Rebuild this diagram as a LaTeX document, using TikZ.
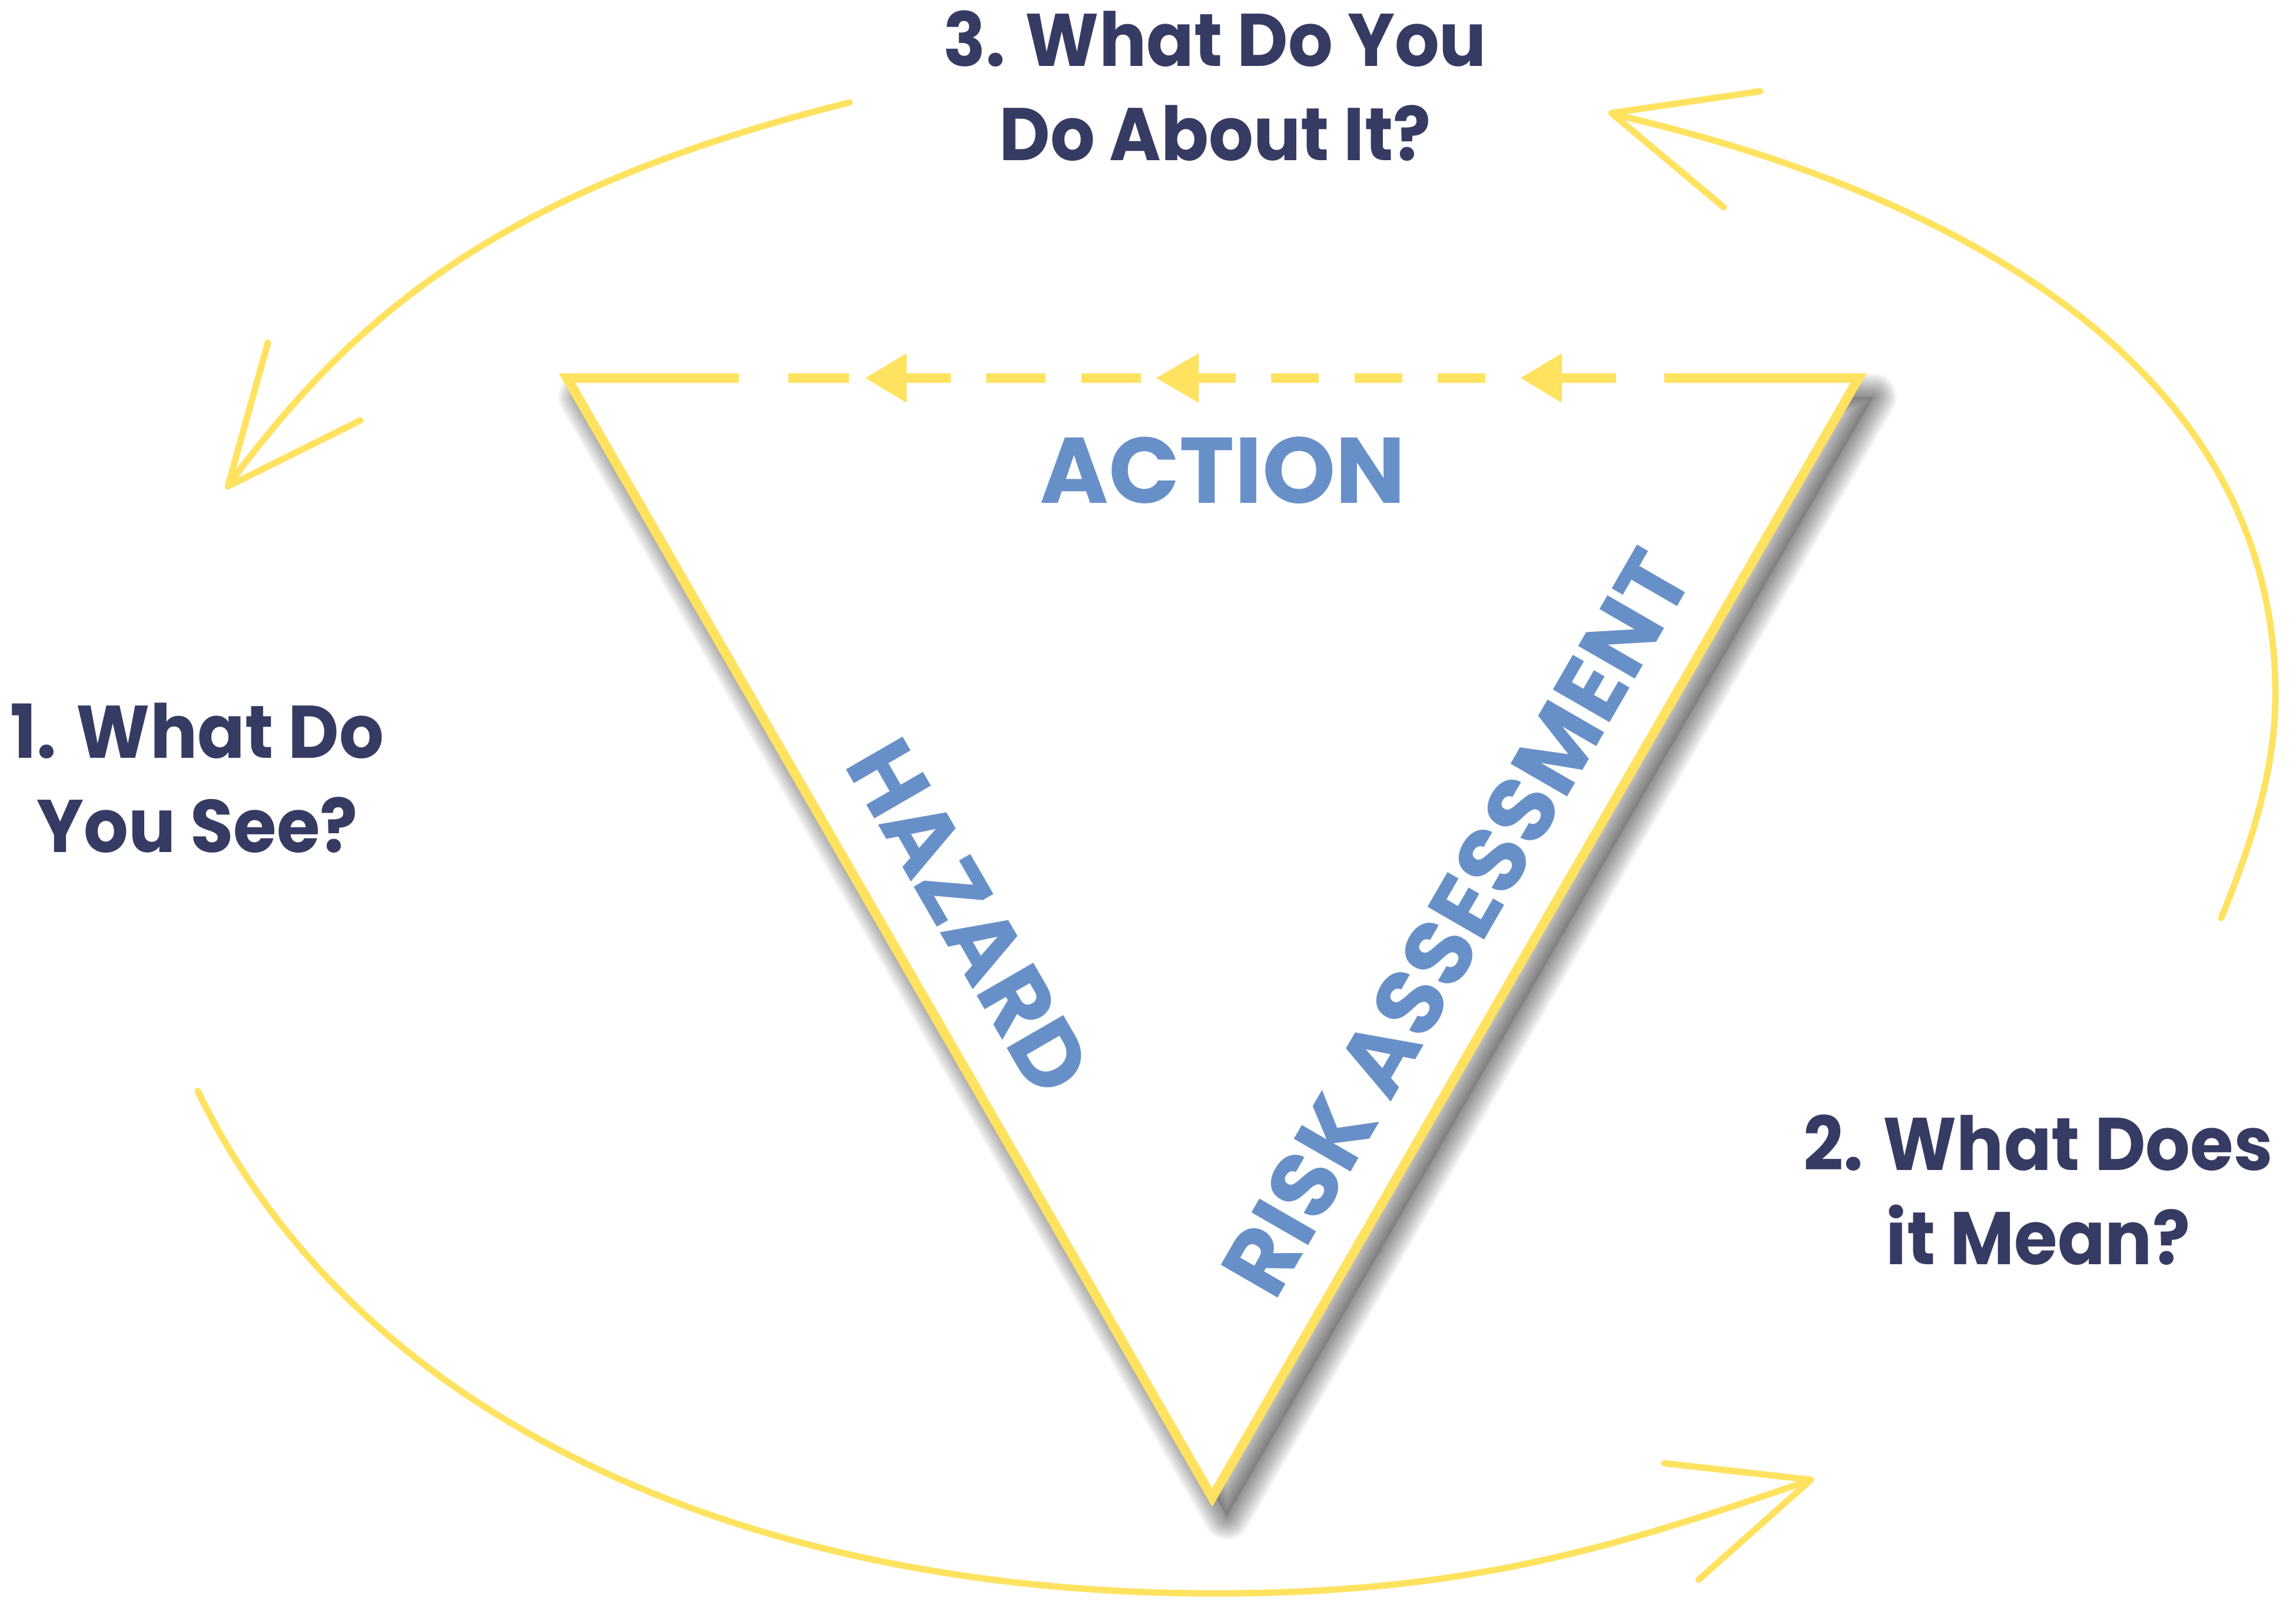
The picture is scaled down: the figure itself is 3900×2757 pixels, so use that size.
\documentclass[tikz,border=0pt]{standalone}
\usepackage{fontspec}
\newfontfamily\popb{Poppins}
\newfontfamily\popq{Poppins}[FakeStretch=0.94]
\definecolor{ylw}{HTML}{FFE260}
\definecolor{navy}{HTML}{363B64}
\definecolor{blu}{HTML}{6890C8}
\begin{document}
\begin{tikzpicture}[x=0.01cm,y=-0.01cm,
  curve/.style={draw=ylw, line width=3.1pt, line cap=round, line join=round},
  qlabel/.style={text=navy, font=\popq\bfseries\fontsize{36}{45.5}\selectfont, align=center, inner sep=0pt, anchor=base},
  blab/.style={text=blu, font=\popb\bfseries\fontsize{45}{54}\selectfont, inner sep=0pt},
  shadowlayer/.style={draw=black, draw opacity=0.03, line join=round}]
\useasboundingbox (0,0) rectangle (3900,2757);
\fill[white] (0,0) rectangle (3900,2757);

% triangle corners
\coordinate (TL) at (963,642);
\coordinate (TR) at (3157,642);
\coordinate (B) at (2059,2543);

% soft drop shadow (offset down-right, blurred by layered strokes)
\coordinate (sTL) at ([shift={(25,32)}]TL);
\coordinate (sTR) at ([shift={(25,32)}]TR);
\coordinate (sB) at ([shift={(25,32)}]B);
\fill[black, opacity=0.12] (sTL) -- (sB) -- (sTR) -- cycle;
\foreach \k in {1,...,16}
  \draw[shadowlayer, line width=\k*0.5mm] (sTL) -- (sB) -- (sTR) -- cycle;

% triangle
\path[fill=white, draw=ylw, line width=4.55pt, line join=miter]
  (TL) -- (B) -- (TR) -- cycle;

% gaps in top edge
\foreach \a/\b in {1255/1339,1442/1540,1615/1675,1776/1837,1938/2036,2099/2159,2240/2301,2382/2442,2523/2653,2745/2827}
  \fill[white] (\a,632) rectangle (\b,653);
% arrowheads on top edge
\foreach \t/\s in {1470/1540,1964/2036,2583/2653}
  \fill[ylw] (\t,642) -- (\s,600) -- (\s,684) -- cycle;

% labels inside triangle
\node[blab] (action) at (2077,799) {ACTION};
\node[blab, rotate=-60] (hazard) at (1646,1557) {HAZARD};
\node[blab, rotate=60] (risk) at (2474,1567) {RISK ASSESSMENT};

% question labels (anchored at baseline of last line)
\node[qlabel] (q1) at (335,1447) {1. What Do\\You See?};
\node[qlabel] (q2) at (3462,2147) {2. What Does\\it Mean?};
\node[qlabel] (q3) at (2064,272) {3. What Do You\\Do About It?};

% curved arrow A (top -> left)
\coordinate (a0) at (1443,174);
\coordinate (a1) at (392,818);
\coordinate (at) at (387,826);
\coordinate (aa) at (455,582);
\coordinate (ab) at (612,714);
\draw[curve] (a0) .. controls (843,324) and (602,538) .. (a1);
\draw[curve] (aa) -- (at) -- (ab);

% curved arrow B (right -> top)
\coordinate (b0) at (3773,1559);
\coordinate (bm) at (3865,1180);
\coordinate (b1) at (2745,195);
\coordinate (bt) at (2737,192);
\coordinate (ba) at (2990,155);
\coordinate (bb) at (2928,352);
\draw[curve] (b0) .. controls (3815,1455) and (3865,1320) .. (bm)
  .. controls (3865,520) and (3110,280) .. (b1);
\draw[curve] (ba) -- (bt) -- (bb);

% curved arrow C (left -> bottom right)
\coordinate (c0) at (336,1853);
\coordinate (cm) at (2064,2706);
\coordinate (c1) at (3068,2516);
\coordinate (ct) at (3076,2513);
\coordinate (ca) at (2827,2485);
\coordinate (cb) at (2885,2683);
\draw[curve] (c0) .. controls (600,2400) and (1250,2706) .. (cm)
  .. controls (2500,2706) and (2750,2625) .. (c1);
\draw[curve] (ca) -- (ct) -- (cb);
\end{tikzpicture}
\end{document}
